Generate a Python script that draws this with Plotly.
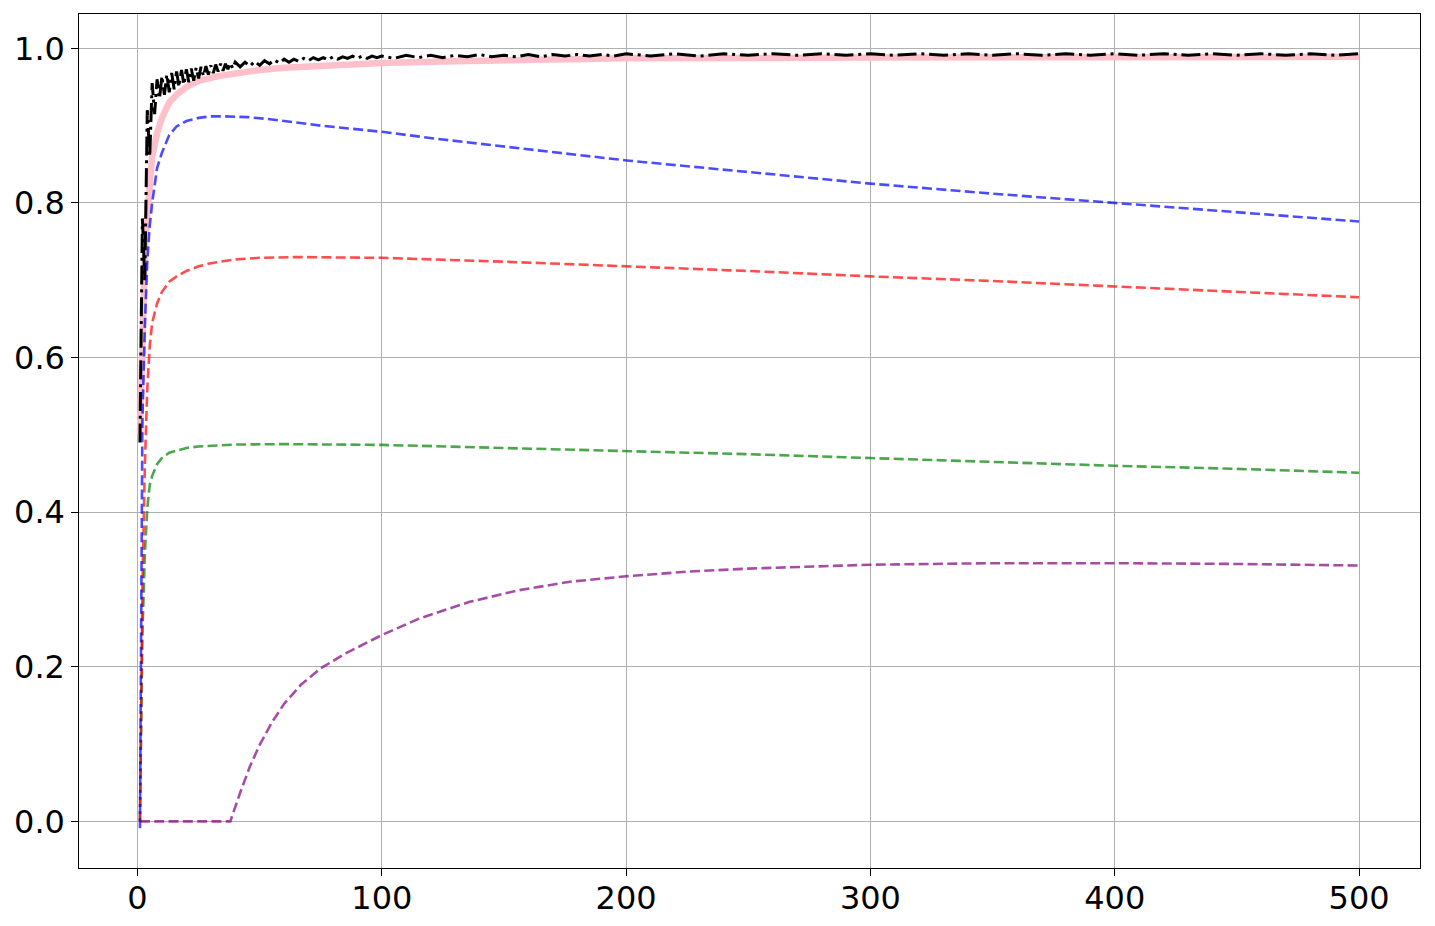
import plotly.graph_objects as go

# ---- data ----
# thick pink reference curve
pink_x = [1, 2, 3, 4, 5, 6, 8, 10, 13, 16, 20, 25, 33, 40, 50, 60, 75, 100, 125, 150, 200, 300, 400, 500]
pink_y = [0.50, 0.64, 0.73, 0.785, 0.83, 0.86, 0.89, 0.91, 0.93, 0.94, 0.95, 0.958, 0.964, 0.968, 0.972, 0.975,
          0.978, 0.981, 0.983, 0.985, 0.987, 0.988, 0.989, 0.989]

# noisy black dash-dot curve
black_x = list(range(1, 41)) + list(range(42, 101, 2)) + list(range(105, 201, 5)) + list(range(210, 501, 10))
black_y = [0.49, 0.78, 0.70, 0.92, 0.86, 0.955, 0.915, 0.96, 0.935, 0.964,
           0.94, 0.966, 0.943, 0.968, 0.947, 0.970, 0.950, 0.972, 0.953, 0.973,
           0.956, 0.974, 0.958, 0.975, 0.961, 0.976, 0.964, 0.977, 0.966, 0.978,
           0.968, 0.979, 0.970, 0.980, 0.971, 0.980, 0.973, 0.981, 0.974, 0.982,
           # 42..100 step 2
           0.976, 0.982, 0.977, 0.983, 0.978, 0.984, 0.980, 0.985, 0.981, 0.986,
           0.982, 0.986, 0.983, 0.987, 0.984, 0.988, 0.985, 0.988, 0.985, 0.989,
           0.986, 0.989, 0.987, 0.990, 0.987, 0.990, 0.987, 0.990, 0.988, 0.990,
           # 105..200 step 5
           0.987, 0.991, 0.988, 0.991, 0.988, 0.991, 0.989, 0.992, 0.989, 0.991,
           0.989, 0.992, 0.989, 0.992, 0.990, 0.992, 0.990, 0.992, 0.990, 0.993,
           # 210..500 step 10
           0.990, 0.993, 0.990, 0.993, 0.991, 0.993, 0.991, 0.993, 0.991, 0.993,
           0.991, 0.993, 0.991, 0.993, 0.991, 0.993, 0.991, 0.993, 0.991, 0.993,
           0.991, 0.993, 0.991, 0.993, 0.991, 0.993, 0.991, 0.993, 0.991, 0.993]

blue_x = [1, 2, 3, 4, 5, 6, 8, 10, 13, 16, 20, 25, 30, 35, 45, 55, 75, 100, 125, 150, 200, 250, 300, 350, 400, 450, 500]
blue_y = [-0.009, 0.52, 0.64, 0.725, 0.77, 0.80, 0.845, 0.865, 0.888, 0.899, 0.906, 0.910, 0.912, 0.912,
          0.911, 0.908, 0.900, 0.892, 0.882, 0.873, 0.855, 0.840, 0.825, 0.812, 0.800, 0.788, 0.776]

red_x = [1, 2, 3, 4, 5, 6, 8, 10, 13, 16, 20, 25, 30, 40, 50, 65, 80, 100, 150, 200, 250, 300, 350, 400, 450, 500]
red_y = [0.0, 0.30, 0.46, 0.56, 0.615, 0.645, 0.67, 0.685, 0.698, 0.705, 0.712, 0.718, 0.722, 0.727, 0.729,
         0.730, 0.7295, 0.729, 0.724, 0.718, 0.712, 0.705, 0.699, 0.692, 0.685, 0.678]

green_x = [1, 2, 3, 4, 5, 6, 8, 10, 13, 16, 20, 25, 30, 40, 60, 80, 100, 150, 200, 250, 300, 350, 400, 450, 500]
green_y = [0.0, 0.24, 0.345, 0.405, 0.435, 0.447, 0.462, 0.470, 0.477, 0.480, 0.483, 0.485, 0.486, 0.4875,
           0.488, 0.4875, 0.487, 0.483, 0.479, 0.475, 0.470, 0.465, 0.460, 0.456, 0.451]

purple_x = [1, 38, 42, 46, 50, 55, 60, 67, 75, 85, 100, 115, 136, 156, 177, 200, 225, 250, 300, 350, 400, 450, 500]
purple_y = [0.0, 0.0, 0.037, 0.071, 0.099, 0.128, 0.152, 0.177, 0.198, 0.217, 0.241, 0.262, 0.284, 0.299,
            0.310, 0.317, 0.323, 0.327, 0.332, 0.334, 0.334, 0.333, 0.331]

x_ticks = [0, 100, 200, 300, 400, 500]
y_ticks = [0.0, 0.2, 0.4, 0.6, 0.8, 1.0]

dash = "10px,4.3px"

fig = go.Figure()
fig.add_trace(go.Scatter(x=pink_x, y=pink_y, mode='lines', line=dict(color='#ffc0cb', width=6.5)))
fig.add_trace(go.Scatter(x=black_x, y=black_y, mode='lines',
                         line=dict(color='black', width=3, dash="19px,4.8px,3px,4.8px")))
fig.add_trace(go.Scatter(x=green_x, y=green_y, mode='lines',
                         line=dict(color='rgba(0,128,0,0.7)', width=2.6, dash=dash)))
fig.add_trace(go.Scatter(x=red_x, y=red_y, mode='lines',
                         line=dict(color='rgba(255,0,0,0.7)', width=2.6, dash=dash)))
fig.add_trace(go.Scatter(x=blue_x, y=blue_y, mode='lines',
                         line=dict(color='rgba(0,0,255,0.7)', width=2.6, dash=dash)))
fig.add_trace(go.Scatter(x=purple_x, y=purple_y, mode='lines',
                         line=dict(color='rgba(128,0,128,0.7)', width=2.6, dash=dash)))

axis_style = dict(showgrid=True, gridcolor='#b0b0b0', gridwidth=1.3, zeroline=False,
                  showline=True, linecolor='black', linewidth=1.3, mirror=True,
                  ticks='outside', ticklen=6.5, tickwidth=1.3, tickcolor='black', automargin=False,
                  tickfont=dict(family='DejaVu Sans', size=32, color='black'))

fig.update_xaxes(range=[-23.95, 524.95], tickvals=x_ticks, ticktext=[str(v) for v in x_ticks],
                 ticklabelstandoff=-5, **axis_style)
fig.update_yaxes(range=[-0.0603, 1.0444], tickvals=y_ticks, ticktext=['%.1f' % v for v in y_ticks], **axis_style)

fig.update_layout(width=1435, height=926, showlegend=False,
                  plot_bgcolor='white', paper_bgcolor='white',
                  margin=dict(l=79, r=15, t=14, b=58))

# drop the default 8px page margin so the figure fills the window exactly
fig.write_html("out.html", config={'displayModeBar': False},
               post_script="document.body.style.margin='0';")
